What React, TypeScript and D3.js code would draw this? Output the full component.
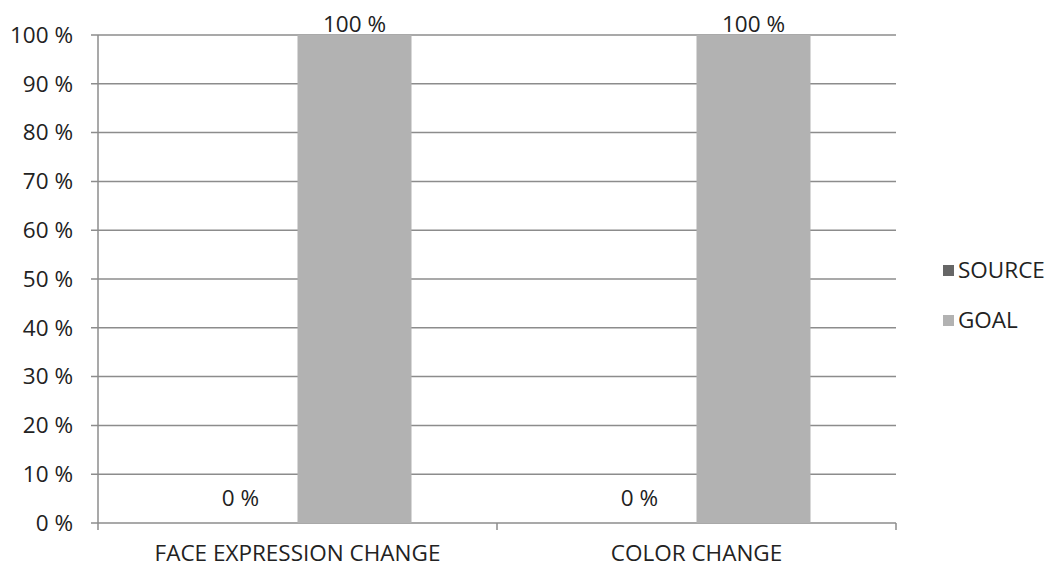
import React from "react";
import * as d3 from "d3";

const categories = ["FACE EXPRESSION CHANGE", "COLOR CHANGE"];
const seriesNames = ["SOURCE", "GOAL"];
const sourceValues = [0, 0];
const goalValues = [100, 100];
const yTicks = [0, 10, 20, 30, 40, 50, 60, 70, 80, 90, 100];
const seriesColors = ["#666666", "#b2b2b2"];

const W = 1052;
const H = 568;
const M = { left: 98, right: 156, top: 35, bottom: 45 };
const FONT = "'Open Sans', 'Noto Sans', sans-serif";
const FS = 22.5;

export default function App() {
  const x = d3
    .scaleBand<string>()
    .domain(categories)
    .range([M.left, W - M.right])
    .paddingInner(0)
    .paddingOuter(0);
  const inner = d3
    .scaleBand<string>()
    .domain(seriesNames)
    .range([0, x.bandwidth()])
    .paddingInner(0)
    .paddingOuter(0.75);
  const y = d3.scaleLinear().domain([0, 100]).range([H - M.bottom, M.top]);
  const values = [sourceValues, goalValues];
  const axisColor = "#8c8c8c";

  return (
    <svg
      width={W}
      height={H}
      style={{ position: "absolute", left: 0, top: 0, background: "#fff" }}
      fontFamily={FONT}
    >
      {/* gridlines and y tick labels */}
      {yTicks.map((t) => (
        <g key={t}>
          <line
            x1={M.left - 7}
            x2={W - M.right}
            y1={y(t)}
            y2={y(t)}
            stroke={axisColor}
            strokeWidth={1.5}
          />
          <text
            x={M.left - 25}
            y={y(t)}
            dy="0.35em"
            textAnchor="end"
            fontSize={FS}
            fill="#222"
          >
            {`${t} %`}
          </text>
        </g>
      ))}
      {/* y axis line */}
      <line
        x1={M.left}
        x2={M.left}
        y1={y(100)}
        y2={y(0)}
        stroke={axisColor}
        strokeWidth={1.5}
      />
      {/* category boundary ticks */}
      {[...categories.map((c) => x(c)!), W - M.right].map((px, i) => (
        <line
          key={i}
          x1={px}
          x2={px}
          y1={y(0)}
          y2={y(0) + 7}
          stroke={axisColor}
          strokeWidth={1.5}
        />
      ))}
      {/* bars and value labels (labels kept inside the plot top) */}
      {categories.map((c, ci) =>
        seriesNames.map((s, si) => {
          const v = values[si][ci];
          const bx = x(c)! + inner(s)!;
          const bw = inner.bandwidth();
          return (
            <g key={c + s}>
              {v > 0 && (
                <rect
                  x={bx}
                  y={y(v)}
                  width={bw}
                  height={y(0) - y(v)}
                  fill={seriesColors[si]}
                />
              )}
              <text
                x={bx + bw / 2}
                y={Math.max(y(v) - 17, M.top - 3)}
                textAnchor="middle"
                fontSize={FS}
                fill="#222"
              >
                {`${v} %`}
              </text>
            </g>
          );
        })
      )}
      {/* category labels */}
      {categories.map((c) => (
        <text
          key={c}
          x={x(c)! + x.bandwidth() / 2}
          y={y(0) + 38}
          textAnchor="middle"
          fontSize={FS}
          fill="#222"
        >
          {c}
        </text>
      ))}
      {/* legend */}
      {seriesNames.map((s, i) => (
        <g key={s} transform={`translate(943, ${270 + i * 50})`}>
          <rect x={0} y={-5} width={11} height={11} fill={seriesColors[i]} />
          <text x={15} y={0} dy="0.35em" fontSize={FS} fill="#222">
            {s}
          </text>
        </g>
      ))}
    </svg>
  );
}
